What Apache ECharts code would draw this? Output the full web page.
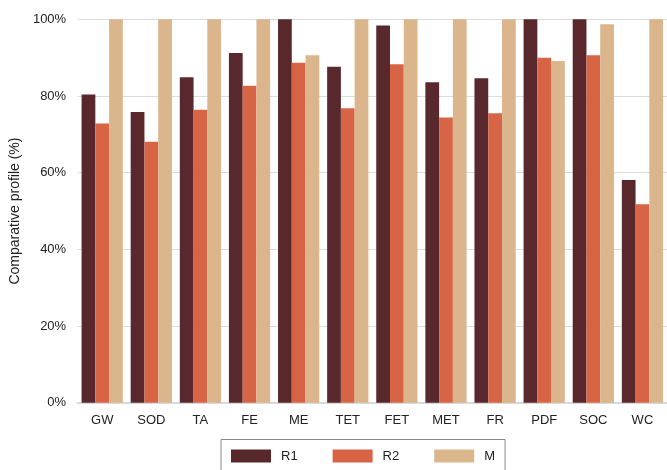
<!DOCTYPE html>
<html>
<head>
<meta charset="utf-8">
<script src="https://cdn.jsdelivr.net/npm/echarts@6/dist/echarts.min.js"></script>
<style>
html,body{margin:0;padding:0;background:#fff;}
#chart{width:667px;height:470px;}
</style>
</head>
<body>
<div id="chart"></div>
<script>
var categories = ['GW','SOD','TA','FE','ME','TET','FET','MET','FR','PDF','SOC','WC'];
var r1 = [80.4, 75.8, 84.9, 91.2, 100, 87.6, 98.4, 83.6, 84.6, 100, 100, 58.1];
var r2 = [72.8, 68.1, 76.4, 82.7, 88.7, 76.8, 88.3, 74.4, 75.5, 90.0, 90.6, 51.8];
var m  = [100, 100, 100, 100, 90.6, 100, 100, 100, 100, 89.1, 98.7, 100];
var seriesNames = ['R1','R2','M'];
var yTicks = [0, 20, 40, 60, 80, 100];

var colors = ['#59282c', '#d66445', '#dbb58c'];
var chart = echarts.init(document.getElementById('chart'), null, {renderer:'canvas'});
var font = 'Liberation Sans, Arial, Helvetica, sans-serif';
var data = [r1, r2, m];
chart.setOption({
  animation: false,
  color: colors,
  grid: {left: 73.5, top: 19.3, width: 596, height: 383.5, containLabel: false},
  legend: {
    data: seriesNames,
    left: 221,
    top: 439.5,
    padding: [10, 10, 10, 10],
    itemWidth: 40,
    itemHeight: 13,
    itemGap: 35,
    borderColor: '#888',
    borderWidth: 1,
    icon: 'rect',
    textStyle: {fontFamily: font, fontSize: 13, color: '#222', padding: [0,0,0,5]}
  },
  xAxis: {
    type: 'category',
    data: categories,
    axisTick: {show: false},
    axisLine: {show: true, lineStyle: {color: '#d9d9d9', width: 2}},
    axisLabel: {fontFamily: font, fontSize: 13, color: '#222', margin: 11}
  },
  yAxis: {
    type: 'value',
    min: yTicks[0],
    max: yTicks[yTicks.length - 1],
    interval: 20,
    name: 'Comparative profile (%)',
    nameLocation: 'middle',
    nameGap: 48,
    nameTextStyle: {fontFamily: font, fontSize: 14, color: '#222'},
    axisLine: {show: false},
    axisTick: {show: false},
    splitLine: {lineStyle: {color: '#dcdcdc', width: 1}},
    axisLabel: {fontFamily: font, fontSize: 13, color: '#222', margin: 11.5,
      formatter: function (v) { return v + '%'; }}
  },
  series: seriesNames.map(function (n, i) {
    return {
      name: n,
      type: 'bar',
      data: data[i],
      barGap: '0%',
      barCategoryGap: '16%',
      itemStyle: {color: colors[i]}
    };
  })
});
</script>
</body>
</html>
